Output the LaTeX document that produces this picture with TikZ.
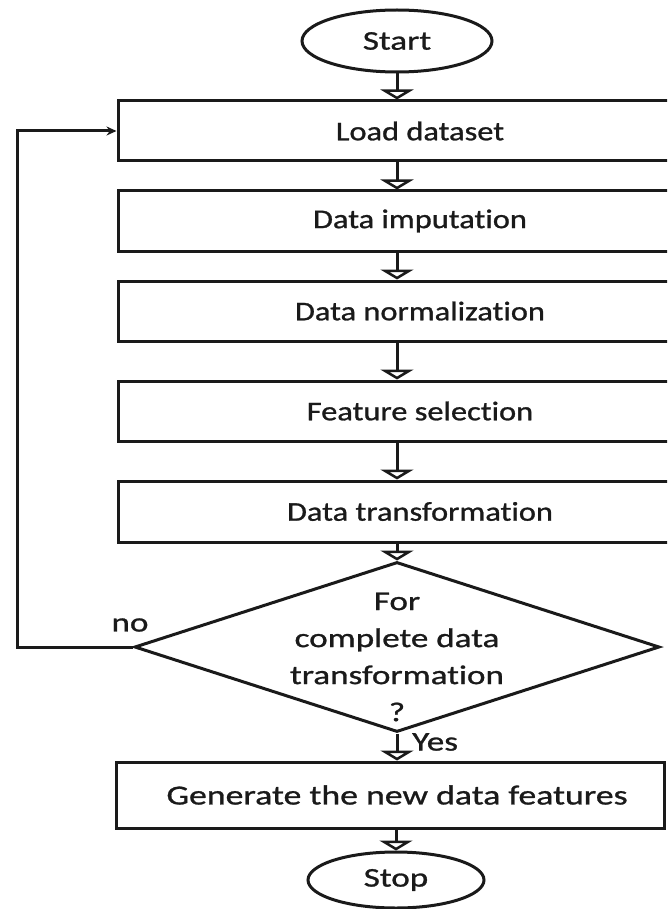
\documentclass[tikz,border=0pt]{standalone}
\usepackage{fontspec}
\setmainfont{Carlito}[FakeStretch=1.3, FakeBold=1, Ligatures=NoCommon]
\newfontfamily\stepface{Carlito}[FakeStretch=1.2, FakeBold=1, Ligatures=NoCommon]
\usetikzlibrary{shapes.geometric,arrows.meta}

\definecolor{ink}{HTML}{1A1A1A}

\tikzset{
  every node/.style={text=ink},
  stepbox/.style={draw=ink, line width=3pt, rectangle, inner sep=0pt,
                  minimum height=60pt, minimum width=604pt,
                  font=\stepface\fontsize{27}{37}\selectfont},
  terminal/.style={draw=ink, line width=3pt, ellipse, inner sep=0pt},
  decision/.style={draw=ink, line width=3pt, diamond, inner sep=0pt,
                   minimum width=525pt, minimum height=170pt},
  flow/.style={draw=ink, line width=3pt,
               -{Triangle[open, length=10pt, width=33pt]}},
  backflow/.style={draw=ink, line width=3pt,
                   -{Stealth[length=10pt, width=9pt]}},
  tag/.style={inner sep=0pt}
}

\begin{document}
\begin{tikzpicture}[x=1pt, y=-1pt, font=\fontsize{27}{37}\selectfont]
  \useasboundingbox (0,0) rectangle (667,909);
  \clip (0,0) rectangle (667,909);

  % terminals
  \node[terminal, minimum width=190pt, minimum height=62pt] (start) at (397,41) {Start};
  \node[terminal, minimum width=176pt, minimum height=56pt] (stop) at (396,880) {Stop};

  % processing steps
  \node[stepbox] (load)  at (420,131)   {Load dataset};
  \node[stepbox] (imp)   at (420,221)   {Data imputation};
  \node[stepbox] (norm)  at (420,311)   {Data normalization};
  \node[stepbox] (feat)  at (420,411)   {Feature selection};
  \node[stepbox, minimum height=61pt] (trans) at (420,511.5) {Data transformation};

  % decision
  \node[decision] (dec) at (397,647) {};
  \node[tag, align=center] (dectext) at (397,657)
       {For\\complete data\\transformation\\?};

  % final step (its text sits a little right of the box centre)
  \node[stepbox, minimum width=548pt, minimum height=66pt,
        font=\fontsize{27.5}{37}\selectfont] (gen) at (390,795)
       {\hspace*{14pt}Generate the new data features};

  % main flow
  \draw[flow] (start.south) -- (start.south |- load.north);
  \draw[flow] (load.south -| start) -- (imp.north -| start);
  \draw[flow] (imp.south -| start) -- (norm.north -| start);
  \draw[flow] (norm.south -| start) -- (feat.north -| start);
  \draw[flow] (feat.south -| start) -- (trans.north -| start);
  \draw[flow] (trans.south -| dec) -- (dec.north);
  \draw[flow] (dec.south) -- (dec.south |- gen.north);
  \draw[flow] (gen.south -| stop) -- (stop.north);

  % loop back when the transformation is not complete
  \coordinate (back) at (17,400);
  \draw[backflow] (dec.west) -| (back) |- (load.west);

  % branch labels
  \node[tag] (nolabel) at (130,625) {no};
  \node[tag, anchor=west] (yeslabel) at (412,742) {Yes};
\end{tikzpicture}
\end{document}
